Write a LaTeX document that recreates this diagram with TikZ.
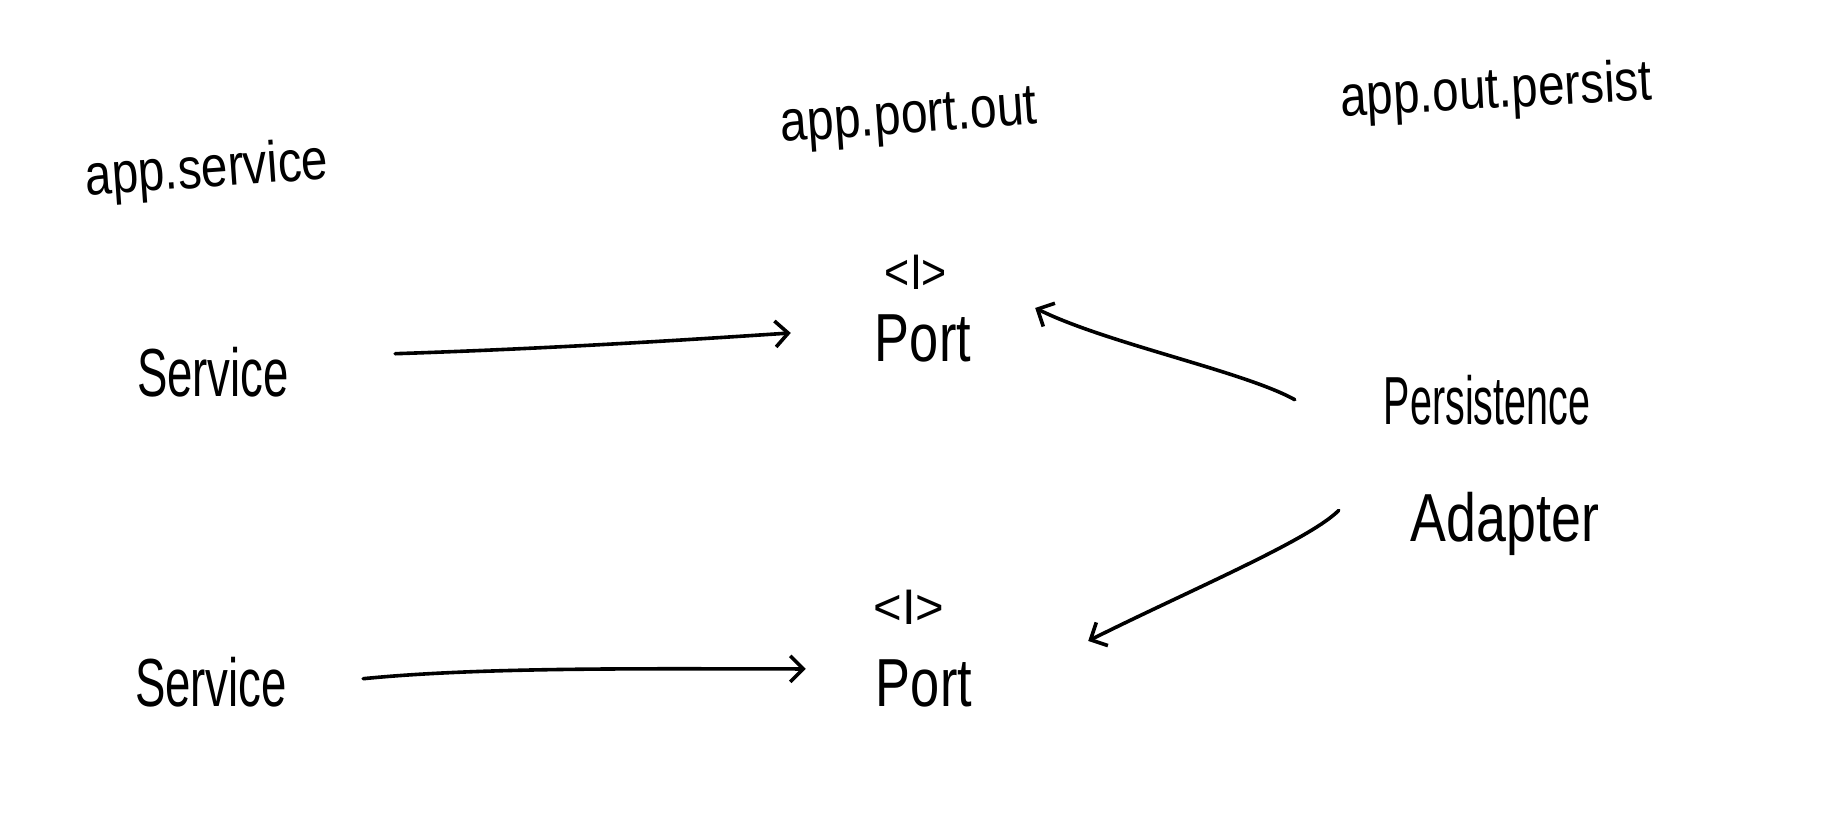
\documentclass[tikz,border=0pt]{standalone}
\usepackage{fontspec}
\usepackage{graphicx}
\setmainfont{Liberation Sans}
\usetikzlibrary{arrows.meta}
\begin{document}
\begin{tikzpicture}[x=1pt,y=-1pt,
  lbl/.style={anchor=base,inner sep=0pt,font=\fontsize{58}{58}\selectfont,rotate=4},
  word/.style={anchor=base,inner sep=0pt,font=\fontsize{68}{68}\selectfont},
  iface/.style={anchor=base,inner sep=0pt,font=\fontsize{50}{50}\selectfont},
  arr/.style={line width=3.6pt,line cap=round,line join=round,-{Straight Barb[length=13pt,width=26pt]}}]
\useasboundingbox (0,0) rectangle (1834,828);
% package labels
\node[lbl] (pkgsvc) at (208,187) {\scalebox{0.82}[1]{app.service}};
\node[lbl] (pkgport) at (910,133) {\scalebox{0.83}[1]{app.port.out}};
\node[lbl,rotate=-1] (pkgpers) at (1497,108) {\scalebox{0.82}[1]{app.out.persist}};
% nodes
\node[word] (svc1) at (213,396) {\scalebox{0.67}[1]{Service}};
\node[word] (svc2) at (211,706) {\scalebox{0.67}[1]{Service}};
\node[iface] (i1) at (916,289) {\scalebox{0.86}[1]{<I>}};
\node[word] (port1) at (923,361) {\scalebox{0.77}[1]{Port}};
\node[iface] (i2) at (909,624) {\scalebox{0.98}[1]{<I>}};
\node[word] (port2) at (924,706) {\scalebox{0.77}[1]{Port}};
\node[word] (pers) at (1487,424) {\scalebox{0.58}[1]{Persistence}};
\node[word] (adap) at (1505,541) {\scalebox{0.79}[1]{Adapter}};
% connectors
\draw[arr] ([xshift=106pt,yshift=18pt]svc1.east) .. controls +(150,-5) and +(-120,8) .. ([xshift=-84pt,yshift=5pt]port1.west);
\draw[arr] ([xshift=76pt,yshift=3pt]svc2.east) .. controls +(120,-12) and +(-150,0) .. ([xshift=-70pt,yshift=14pt]port2.west);
\draw[arr] ([xshift=-89pt]pers.west) .. controls +(-50,-28) and +(70,35) .. ([xshift=64pt,yshift=30pt]port1.east);
\draw[arr] ([xshift=-72pt,yshift=13pt]adap.west) .. controls +(-30,30) and +(100,-50) .. ([xshift=116pt,yshift=42pt]port2.east);
\end{tikzpicture}
\end{document}
